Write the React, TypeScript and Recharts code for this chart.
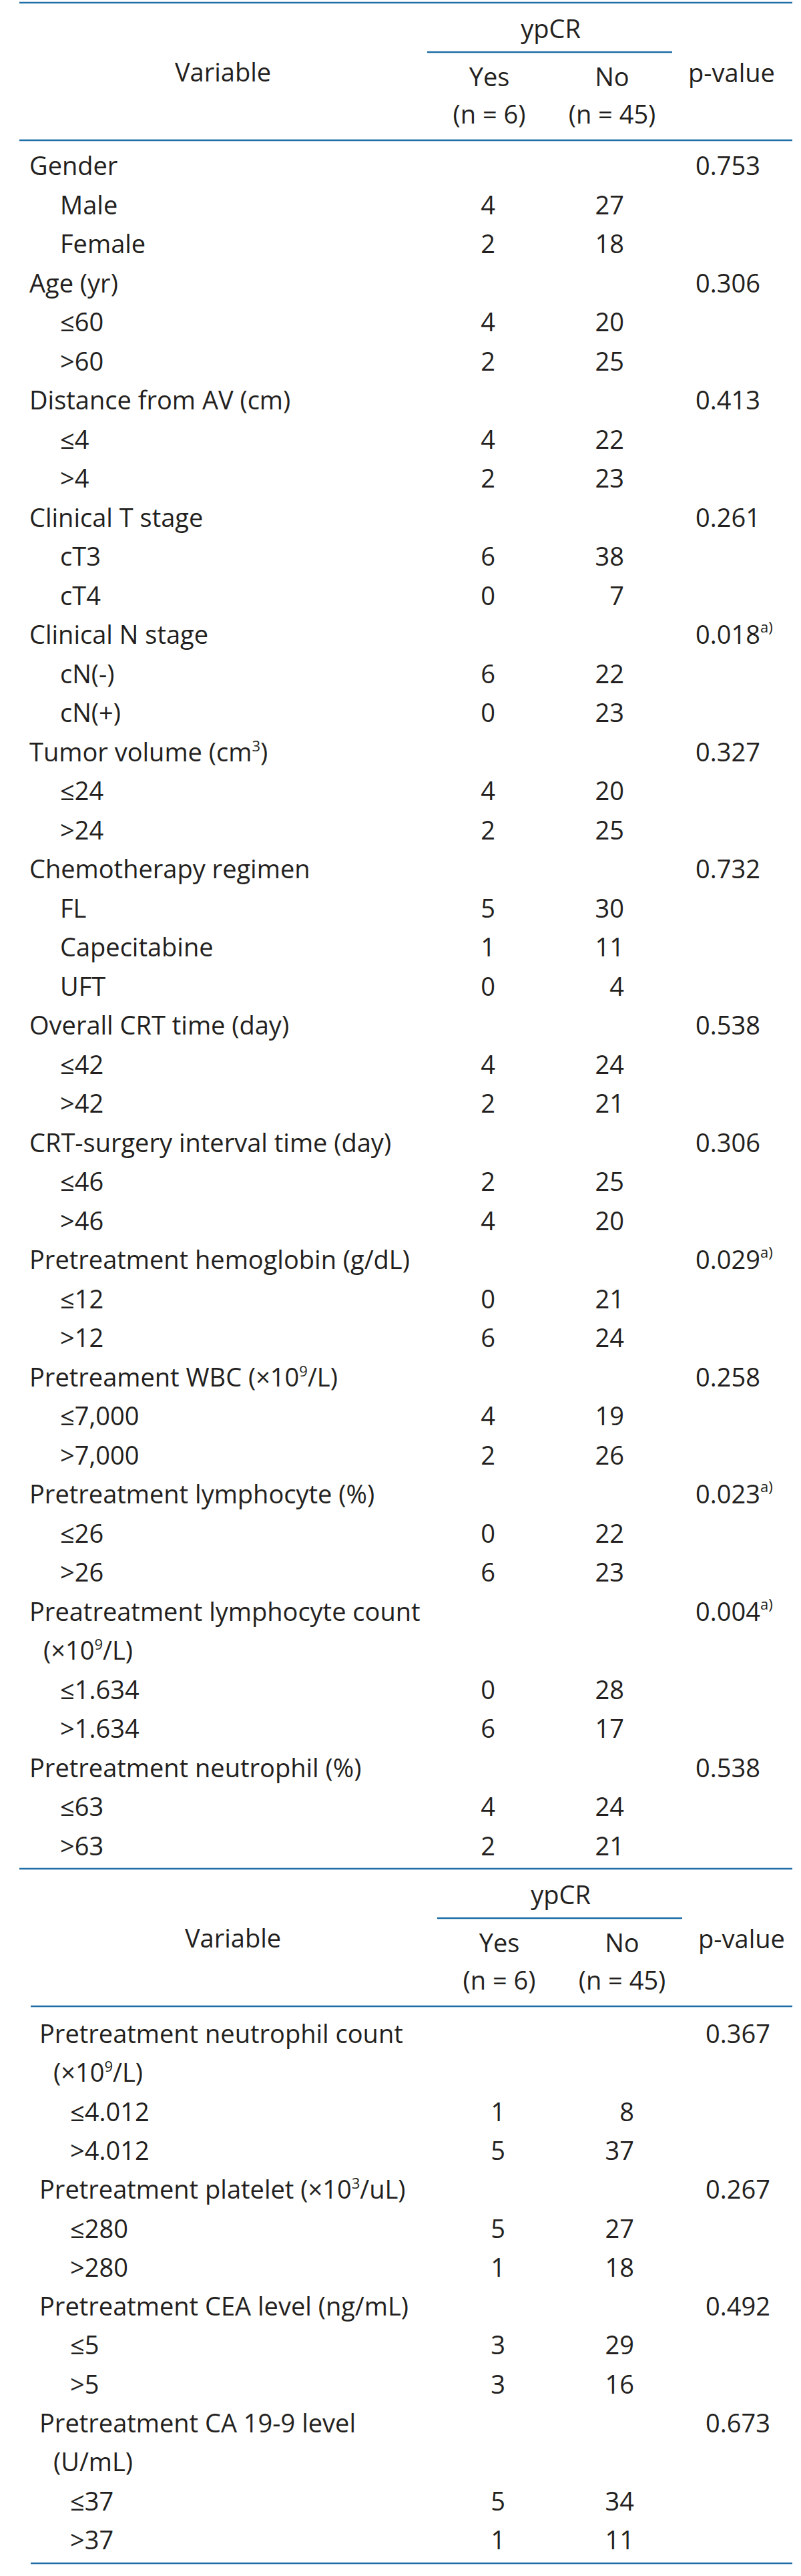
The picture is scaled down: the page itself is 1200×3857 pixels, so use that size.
import React from "react";
import { ComposedChart, Scatter, XAxis, YAxis, Customized } from "recharts";

// ---------------- Table 1 data ----------------
const t1Labels = [
  "Gender", "Male", "Female",
  "Age (yr)", "≤60", ">60",
  "Distance from AV (cm)", "≤4", ">4",
  "Clinical T stage", "cT3", "cT4",
  "Clinical N stage", "cN(-)", "cN(+)",
  "Tumor volume (cm^3^)", "≤24", ">24",
  "Chemotherapy regimen", "FL", "Capecitabine", "UFT",
  "Overall CRT time (day)", "≤42", ">42",
  "CRT-surgery interval time (day)", "≤46", ">46",
  "Pretreatment hemoglobin (g/dL)", "≤12", ">12",
  "Pretreament WBC (×10^9^/L)", "≤7,000", ">7,000",
  "Pretreatment lymphocyte (%)", "≤26", ">26",
  "Preatreatment lymphocyte count", "(×10^9^/L)", "≤1.634", ">1.634",
  "Pretreatment neutrophil (%)", "≤63", ">63",
];
// 0 = variable, 1 = category, 2 = wrapped continuation line
const t1Levels = [
  0, 1, 1,
  0, 1, 1,
  0, 1, 1,
  0, 1, 1,
  0, 1, 1,
  0, 1, 1,
  0, 1, 1, 1,
  0, 1, 1,
  0, 1, 1,
  0, 1, 1,
  0, 1, 1,
  0, 1, 1,
  0, 2, 1, 1,
  0, 1, 1,
];
const t1Yes = [
  null, 4, 2,
  null, 4, 2,
  null, 4, 2,
  null, 6, 0,
  null, 6, 0,
  null, 4, 2,
  null, 5, 1, 0,
  null, 4, 2,
  null, 2, 4,
  null, 0, 6,
  null, 4, 2,
  null, 0, 6,
  null, null, 0, 6,
  null, 4, 2,
];
const t1No = [
  null, 27, 18,
  null, 20, 25,
  null, 22, 23,
  null, 38, 7,
  null, 22, 23,
  null, 20, 25,
  null, 30, 11, 4,
  null, 24, 21,
  null, 25, 20,
  null, 21, 24,
  null, 19, 26,
  null, 22, 23,
  null, null, 28, 17,
  null, 24, 21,
];
const t1P = [
  "0.753", null, null,
  "0.306", null, null,
  "0.413", null, null,
  "0.261", null, null,
  "0.018", null, null,
  "0.327", null, null,
  "0.732", null, null, null,
  "0.538", null, null,
  "0.306", null, null,
  "0.029", null, null,
  "0.258", null, null,
  "0.023", null, null,
  "0.004", null, null, null,
  "0.538", null, null,
];
const t1Note = [
  "", "", "",
  "", "", "",
  "", "", "",
  "", "", "",
  "a)", "", "",
  "", "", "",
  "", "", "", "",
  "", "", "",
  "", "", "",
  "a)", "", "",
  "", "", "",
  "a)", "", "",
  "a)", "", "", "",
  "", "", "",
];

// ---------------- Table 2 data ----------------
const t2Labels = [
  "Pretreatment neutrophil count", "(×10^9^/L)", "≤4.012", ">4.012",
  "Pretreatment platelet (×10^3^/uL)", "≤280", ">280",
  "Pretreatment CEA level (ng/mL)", "≤5", ">5",
  "Pretreatment CA 19-9 level", "(U/mL)", "≤37", ">37",
];
const t2Levels = [0, 2, 1, 1, 0, 1, 1, 0, 1, 1, 0, 2, 1, 1];
const t2Yes = [null, null, 1, 5, null, 5, 1, null, 3, 3, null, null, 5, 1];
const t2No = [null, null, 8, 37, null, 27, 18, null, 29, 16, null, null, 34, 11];
const t2P = ["0.367", null, null, null, "0.267", null, null, "0.492", null, null, "0.673", null, null, null];
const t2Note = ["", "", "", "", "", "", "", "", "", "", "", "", "", ""];

// ---------------- Header texts ----------------
const headVariable = "Variable";
const headGroup = "ypCR";
const headYes = "Yes";
const headNo = "No";
const headYesN = "(n = 6)";
const headNoN = "(n = 45)";
const headP = "p-value";

// ---------------- Styles / layout ----------------
const FONT = "'Open Sans', 'DejaVu Sans', sans-serif";
const FS = 38;
const SUP_FS = 22;
const TEXT = "#231f20";
const RULE = "#1e6ea7";
const BASE_DY = 14;
const COL_STEP = 193;
const X_MAX = 3.2;
const PAGE_W = 1200;

type Row = {
  r: number;
  label: string;
  level: number;
  yes: number | null;
  no: number | null;
  p: string | null;
  note: string;
};

function buildRows(labels: string[], levels: number[], yes: (number | null)[], no: (number | null)[], p: (string | null)[], note: string[]): Row[] {
  return labels.map((label, r) => ({ r, label, level: levels[r], yes: yes[r], no: no[r], p: p[r], note: note[r] }));
}

function Rich({ text }: { text: string }) {
  const parts = text.split("^");
  return (
    <>
      {parts.map((s, k) =>
        k % 2 === 1 ? (
          <tspan key={k} fontSize={SUP_FS} dy={-15}>{s}</tspan>
        ) : (
          <tspan key={k} dy={k === 0 ? 0 : 15}>{s}</tspan>
        )
      )}
    </>
  );
}

type TableCfg = {
  height: number;
  firstRowY: number;
  pitch: number;
  shift: number;
  topY: number; // y of the top rule (may be outside, drawn by previous chart)
  drawTop: boolean;
  headLineX0: number;
  bottomY: number;
  bottomX0: number;
};

function Header({ cfg }: { cfg: TableCfg }) {
  const s = cfg.shift;
  const t = cfg.topY;
  const common = { fontFamily: FONT, fontSize: FS, fill: TEXT };
  return (
    <g>
      {cfg.drawTop && <line x1={29} x2={1187} y1={t} y2={t} stroke={RULE} strokeWidth={2.5} />}
      <text {...common} x={825 + s} y={t + 53} textAnchor="middle">{headGroup}</text>
      <line x1={640 + s} x2={1007 + s} y1={t + 74} y2={t + 74} stroke={RULE} strokeWidth={2.5} />
      <text {...common} x={334 + s} y={t + 118} textAnchor="middle">{headVariable}</text>
      <text {...common} x={733 + s} y={t + 125} textAnchor="middle">{headYes}</text>
      <text {...common} x={917 + s} y={t + 125} textAnchor="middle">{headNo}</text>
      <text {...common} x={1096 + s} y={t + 119} textAnchor="middle">{headP}</text>
      <text {...common} x={733 + s} y={t + 181} textAnchor="middle">{headYesN}</text>
      <text {...common} x={917 + s} y={t + 181} textAnchor="middle">{headNoN}</text>
      <line x1={cfg.headLineX0} x2={1187} y1={t + 206} y2={t + 206} stroke={RULE} strokeWidth={2.5} />
      <line x1={cfg.bottomX0} x2={1187} y1={cfg.bottomY} y2={cfg.bottomY} stroke={RULE} strokeWidth={2.5} />
    </g>
  );
}

function Table({ rows, cfg }: { rows: Row[]; cfg: TableCfg }) {
  const n = rows.length;
  const yesRight = 742 + cfg.shift;
  const yAxisW = yesRight - COL_STEP;
  const plotW = X_MAX * COL_STEP;
  const right = PAGE_W - yAxisW - plotW;
  const top = cfg.firstRowY - cfg.pitch / 2;
  const bottom = cfg.height - (cfg.firstRowY + (n - 0.5) * cfg.pitch);

  const yesData = rows.filter((d) => d.yes !== null).map((d) => ({ c: 1, r: d.r, t: String(d.yes) }));
  const noData = rows.filter((d) => d.no !== null).map((d) => ({ c: 2, r: d.r, t: String(d.no) }));
  const pData = rows.filter((d) => d.p !== null).map((d) => ({ c: 3, r: d.r, t: d.p as string, note: d.note }));

  const labelX = [44 + cfg.shift, 90 + cfg.shift, 65 + cfg.shift];

  const tick = (props: any) => {
    const row = rows[props.payload.value];
    if (!row) return <g />;
    return (
      <text x={labelX[row.level]} y={props.y + BASE_DY} fontFamily={FONT} fontSize={FS} fill={TEXT} textAnchor="start">
        <Rich text={row.label} />
      </text>
    );
  };

  const numShape = (props: any) => (
    <text x={props.cx} y={props.cy + BASE_DY} fontFamily={FONT} fontSize={FS} fill={TEXT} textAnchor="end">
      {props.payload.t}
    </text>
  );
  const pShape = (props: any) => (
    <text x={props.cx - 86} y={props.cy + BASE_DY} fontFamily={FONT} fontSize={FS} fill={TEXT} textAnchor="start">
      <tspan>{props.payload.t}</tspan>
      {props.payload.note ? (
        <tspan fontSize={SUP_FS} dy={-17}>{props.payload.note}</tspan>
      ) : null}
    </text>
  );

  return (
    <ComposedChart
      width={PAGE_W}
      height={cfg.height}
      margin={{ top, bottom, left: 0, right }}
      style={{ display: "block" }}
    >
      <XAxis type="number" dataKey="c" domain={[0, X_MAX]} allowDataOverflow hide />
      <YAxis
        type="number"
        dataKey="r"
        domain={[-0.5, n - 0.5]}
        allowDataOverflow
        reversed
        width={yAxisW}
        ticks={rows.map((d) => d.r)}
        interval={0}
        axisLine={false}
        tickLine={false}
        tick={tick}
      />
      <Scatter data={yesData} shape={numShape} isAnimationActive={false} />
      <Scatter data={noData} shape={numShape} isAnimationActive={false} />
      <Scatter data={pData} shape={pShape} isAnimationActive={false} />
      <Customized component={<Header cfg={cfg} />} />
    </ComposedChart>
  );
}

const rows1 = buildRows(t1Labels, t1Levels, t1Yes, t1No, t1P, t1Note);
const rows2 = buildRows(t2Labels, t2Levels, t2Yes, t2No, t2P, t2Note);

const cfg1: TableCfg = {
  height: 2800,
  firstRowY: 248,
  pitch: 58.5,
  shift: 0,
  topY: 4,
  drawTop: true,
  headLineX0: 29,
  bottomY: 2798,
  bottomX0: 29,
};
const cfg2: TableCfg = {
  height: 1057,
  firstRowY: 245,
  pitch: 58.3,
  shift: 15,
  topY: -2,
  drawTop: false,
  headLineX0: 46,
  bottomY: 1038,
  bottomX0: 46,
};

export default function App() {
  return (
    <div style={{ position: "absolute", left: 0, top: 0, width: PAGE_W, height: 3857, background: "#fff" }}>
      <div style={{ position: "absolute", left: 0, top: 0 }}>
        <Table rows={rows1} cfg={cfg1} />
      </div>
      <div style={{ position: "absolute", left: 0, top: 2800 }}>
        <Table rows={rows2} cfg={cfg2} />
      </div>
    </div>
  );
}
